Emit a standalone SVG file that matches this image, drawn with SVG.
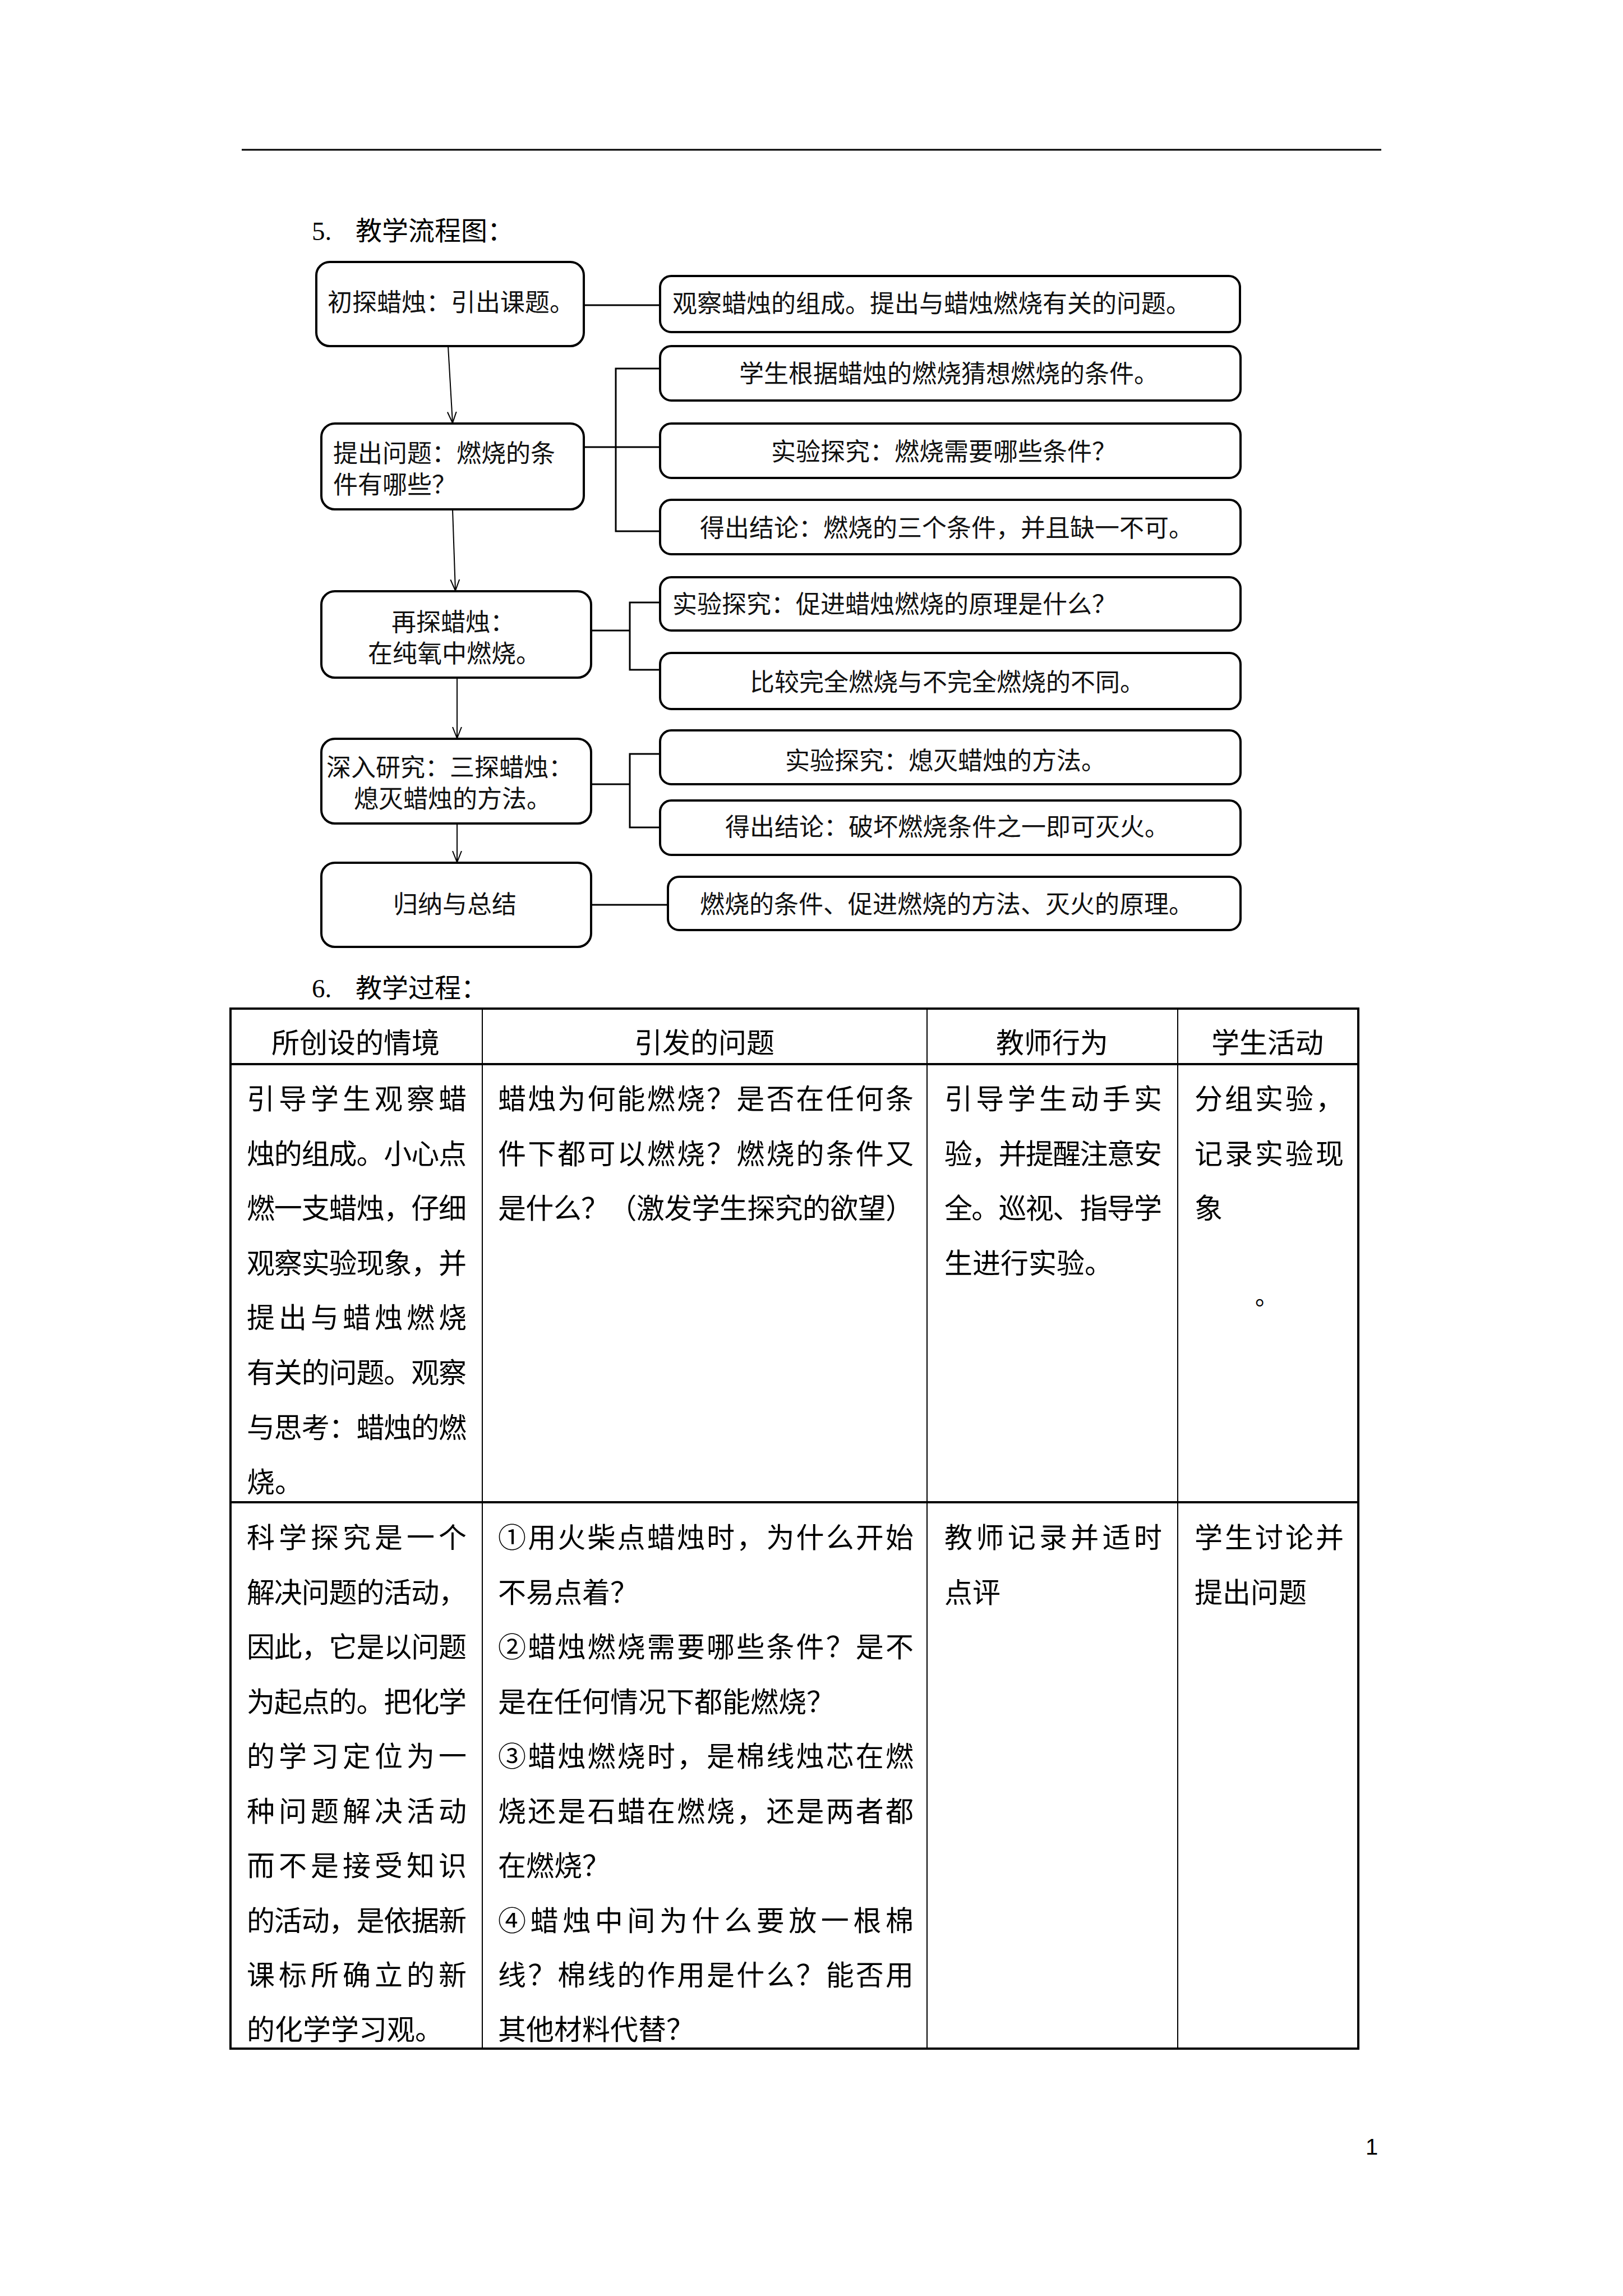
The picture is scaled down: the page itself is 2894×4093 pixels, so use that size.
<svg xmlns="http://www.w3.org/2000/svg" width="2894" height="4093" viewBox="0 0 2894 4093">
<style>
.box{fill:#fff;stroke:#000;stroke-width:4}
.fc{font-family:"Noto Sans CJK SC","Noto Sans",sans-serif;font-size:44px;fill:#111}
.mid{text-anchor:middle}
.ln{fill:none;stroke:#000;stroke-width:3}
.ar{fill:none;stroke:#000;stroke-width:2}
.hd{font-family:"Liberation Serif","Noto Sans CJK SC",serif;font-size:47px;fill:#000}
.tb{font-family:"Liberation Serif","Noto Sans CJK SC",serif;font-size:50px;fill:#000}
.tl{stroke:#000;stroke-width:4}
.tv{stroke:#000;stroke-width:2}
</style>
<defs>
<marker id="arr" markerUnits="userSpaceOnUse" markerWidth="24" markerHeight="24" refX="20" refY="10" orient="auto" viewBox="0 0 24 20">
<path d="M0,2 L20,10 L0,18" fill="none" stroke="#000" stroke-width="2"/>
</marker>
</defs>
<rect width="2894" height="4093" fill="#fff"/>
<line x1="431" y1="267" x2="2463" y2="267" stroke="#000" stroke-width="3"/>
<text class="hd" x="556" y="428">5.</text>
<text class="hd" x="634" y="428">教学流程图：</text>

<g id="connectors">
<line class="ln" x1="1041" y1="544" x2="1177" y2="544"/>
<polyline class="ln" points="1041,797 1177,797"/>
<polyline class="ln" points="1177,657 1098,657 1098,947 1177,947"/>
<polyline class="ln" points="1054,1124 1123,1124"/>
<polyline class="ln" points="1177,1074 1123,1074 1123,1194 1177,1194"/>
<polyline class="ln" points="1054,1398 1123,1398"/>
<polyline class="ln" points="1177,1344 1123,1344 1123,1475 1177,1475"/>
<line class="ln" x1="1054" y1="1613" x2="1191" y2="1613"/>
<line class="ar" x1="799" y1="617" x2="807" y2="754" marker-end="url(#arr)"/>
<line class="ar" x1="807" y1="908" x2="812" y2="1053" marker-end="url(#arr)"/>
<line class="ar" x1="815" y1="1208" x2="815" y2="1316" marker-end="url(#arr)"/>
<line class="ar" x1="815" y1="1468" x2="815" y2="1537" marker-end="url(#arr)"/>
</g>

<g id="n1"><rect class="box" x="564" y="467" width="477" height="150" rx="24"/><text class="fc" x="584" y="555">初探蜡烛：引出课题。</text></g>
<g id="r1"><rect class="box" x="1177" y="492" width="1034" height="100" rx="20"/><text class="fc" x="1199" y="557">观察蜡烛的组成。提出与蜡烛燃烧有关的问题。</text></g>
<g id="n2"><rect class="box" x="573" y="755" width="468" height="153" rx="24"/><text class="fc" x="594" y="824">提出问题：燃烧的条<tspan x="594" dy="56">件有哪些？</tspan></text></g>
<g id="r2"><rect class="box" x="1177" y="617" width="1035" height="97" rx="20"/><text class="fc mid" x="1692" y="682">学生根据蜡烛的燃烧猜想燃烧的条件。</text></g>
<g id="r3"><rect class="box" x="1177" y="755" width="1035" height="97" rx="20"/><text class="fc mid" x="1683" y="821">实验探究：燃烧需要哪些条件？</text></g>
<g id="r4"><rect class="box" x="1177" y="891" width="1035" height="97" rx="20"/><text class="fc mid" x="1688" y="957">得出结论：燃烧的三个条件，并且缺一不可。</text></g>
<g id="n3"><rect class="box" x="573" y="1054" width="481" height="154" rx="24"/><text class="fc mid" x="808" y="1125">再探蜡烛：<tspan x="810" dy="56">在纯氧中燃烧。</tspan></text></g>
<g id="r5"><rect class="box" x="1177" y="1029" width="1035" height="95" rx="20"/><text class="fc" x="1199" y="1093">实验探究：促进蜡烛燃烧的原理是什么？</text></g>
<g id="r6"><rect class="box" x="1177" y="1164" width="1035" height="100" rx="20"/><text class="fc mid" x="1689" y="1232">比较完全燃烧与不完全燃烧的不同。</text></g>
<g id="n4"><rect class="box" x="573" y="1317" width="481" height="151" rx="24"/><text class="fc mid" x="802" y="1384">深入研究：三探蜡烛：<tspan x="807" dy="56">熄灭蜡烛的方法。</tspan></text></g>
<g id="r7"><rect class="box" x="1177" y="1302" width="1035" height="96" rx="20"/><text class="fc mid" x="1686" y="1372">实验探究：熄灭蜡烛的方法。</text></g>
<g id="r8"><rect class="box" x="1177" y="1427" width="1035" height="97" rx="20"/><text class="fc mid" x="1689" y="1490">得出结论：破坏燃烧条件之一即可灭火。</text></g>
<g id="n5"><rect class="box" x="573" y="1538" width="481" height="150" rx="24"/><text class="fc mid" x="811" y="1628">归纳与总结</text></g>
<g id="r9"><rect class="box" x="1191" y="1563" width="1021" height="95" rx="20"/><text class="fc mid" x="1688" y="1628">燃烧的条件、促进燃烧的方法、灭火的原理。</text></g>

<text class="hd" x="556" y="1778">6.</text>
<text class="hd" x="634" y="1778">教学过程：</text>

<g id="table">
<line class="tl" x1="409" y1="1798" x2="2424" y2="1798"/>
<line class="tl" x1="409" y1="1897" x2="2424" y2="1897"/>
<line class="tl" x1="409" y1="2678" x2="2424" y2="2678"/>
<line class="tl" x1="409" y1="3652" x2="2424" y2="3652"/>
<line class="tl" x1="411" y1="1798" x2="411" y2="3654"/>
<line class="tl" x1="2422" y1="1798" x2="2422" y2="3654"/>
<line class="tv" x1="860" y1="1798" x2="860" y2="3652"/>
<line class="tv" x1="1653" y1="1798" x2="1653" y2="3652"/>
<line class="tv" x1="2100" y1="1798" x2="2100" y2="3652"/>

<text class="tb mid" x="634" y="1877">所创设的情境</text>
<text class="tb mid" x="1256" y="1877">引发的问题</text>
<text class="tb mid" x="1876" y="1877">教师行为</text>
<text class="tb mid" x="2260" y="1877">学生活动</text>

<text class="tb" x="440" y="1977" textLength="392" lengthAdjust="spacing">引导学生观察蜡</text>
<text class="tb" x="440" y="2075" textLength="392" lengthAdjust="spacing">烛的组成。小心点</text>
<text class="tb" x="440" y="2172" textLength="392" lengthAdjust="spacing">燃一支蜡烛，仔细</text>
<text class="tb" x="440" y="2270" textLength="392" lengthAdjust="spacing">观察实验现象，并</text>
<text class="tb" x="440" y="2367" textLength="392" lengthAdjust="spacing">提出与蜡烛燃烧</text>
<text class="tb" x="440" y="2465" textLength="392" lengthAdjust="spacing">有关的问题。观察</text>
<text class="tb" x="440" y="2563" textLength="392" lengthAdjust="spacing">与思考：蜡烛的燃</text>
<text class="tb" x="440" y="2660">烧。</text>

<text class="tb" x="888" y="1977" textLength="741" lengthAdjust="spacing">蜡烛为何能燃烧？是否在任何条</text>
<text class="tb" x="888" y="2075" textLength="741" lengthAdjust="spacing">件下都可以燃烧？燃烧的条件又</text>
<text class="tb" x="888" y="2172" textLength="741" lengthAdjust="spacing">是什么？（激发学生探究的欲望）</text>

<text class="tb" x="1684" y="1977" textLength="388" lengthAdjust="spacing">引导学生动手实</text>
<text class="tb" x="1684" y="2075" textLength="388" lengthAdjust="spacing">验，并提醒注意安</text>
<text class="tb" x="1684" y="2172" textLength="388" lengthAdjust="spacing">全。巡视、指导学</text>
<text class="tb" x="1684" y="2270">生进行实验。</text>

<text class="tb" x="2130" y="1977" textLength="266" lengthAdjust="spacing">分组实验，</text>
<text class="tb" x="2130" y="2075" textLength="266" lengthAdjust="spacing">记录实验现</text>
<text class="tb" x="2130" y="2172">象</text>
<text class="tb" x="2238" y="2326" style="font-size:42px">。</text>

<text class="tb" x="440" y="2759" textLength="392" lengthAdjust="spacing">科学探究是一个</text>
<text class="tb" x="440" y="2857" textLength="392" lengthAdjust="spacing">解决问题的活动，</text>
<text class="tb" x="440" y="2954" textLength="392" lengthAdjust="spacing">因此，它是以问题</text>
<text class="tb" x="440" y="3052" textLength="392" lengthAdjust="spacing">为起点的。把化学</text>
<text class="tb" x="440" y="3149" textLength="392" lengthAdjust="spacing">的学习定位为一</text>
<text class="tb" x="440" y="3247" textLength="392" lengthAdjust="spacing">种问题解决活动</text>
<text class="tb" x="440" y="3344" textLength="392" lengthAdjust="spacing">而不是接受知识</text>
<text class="tb" x="440" y="3442" textLength="392" lengthAdjust="spacing">的活动，是依据新</text>
<text class="tb" x="440" y="3539" textLength="392" lengthAdjust="spacing">课标所确立的新</text>
<text class="tb" x="440" y="3636">的化学学习观。</text>

<text class="tb" x="888" y="2759" textLength="741" lengthAdjust="spacing">①用火柴点蜡烛时，为什么开始</text>
<text class="tb" x="888" y="2857">不易点着？</text>
<text class="tb" x="888" y="2954" textLength="741" lengthAdjust="spacing">②蜡烛燃烧需要哪些条件？是不</text>
<text class="tb" x="888" y="3052">是在任何情况下都能燃烧？</text>
<text class="tb" x="888" y="3149" textLength="741" lengthAdjust="spacing">③蜡烛燃烧时，是棉线烛芯在燃</text>
<text class="tb" x="888" y="3247" textLength="741" lengthAdjust="spacing">烧还是石蜡在燃烧，还是两者都</text>
<text class="tb" x="888" y="3344">在燃烧？</text>
<text class="tb" x="888" y="3442" textLength="741" lengthAdjust="spacing">④蜡烛中间为什么要放一根棉</text>
<text class="tb" x="888" y="3539" textLength="741" lengthAdjust="spacing">线？棉线的作用是什么？能否用</text>
<text class="tb" x="888" y="3636">其他材料代替？</text>

<text class="tb" x="1684" y="2759" textLength="388" lengthAdjust="spacing">教师记录并适时</text>
<text class="tb" x="1684" y="2857">点评</text>

<text class="tb" x="2130" y="2759" textLength="266" lengthAdjust="spacing">学生讨论并</text>
<text class="tb" x="2130" y="2857">提出问题</text>
</g>

<text x="2435" y="3841" style="font-family:'Liberation Sans',sans-serif;font-size:40px">1</text>
</svg>
